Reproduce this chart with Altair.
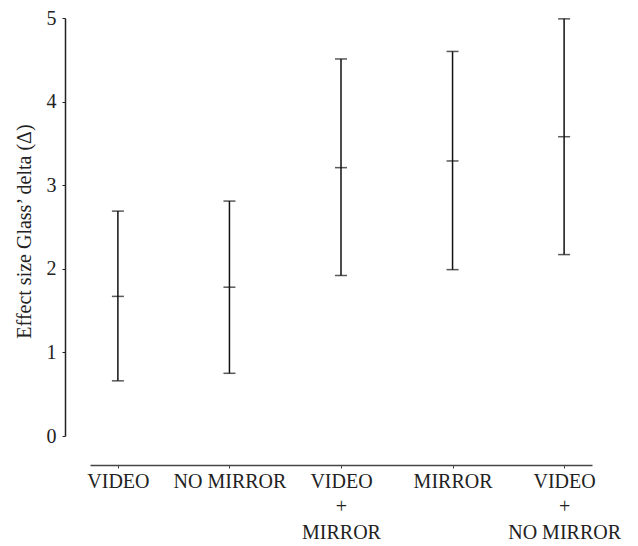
import altair as alt
import pandas as pd

categories = ["VIDEO", "NO MIRROR", "VIDEO|+|MIRROR", "MIRROR", "VIDEO|+|NO MIRROR"]
lower = [0.66, 0.75, 1.92, 1.99, 2.17]
mean = [1.67, 1.78, 3.21, 3.29, 3.58]
upper = [2.69, 2.81, 4.51, 4.60, 4.99]

df = pd.DataFrame({"cat": categories, "lo": lower, "mid": mean, "hi": upper})

FONT = "Liberation Serif"
FS = 20

xenc = alt.X(
    "cat:N",
    sort=categories,
    scale=alt.Scale(type="point", padding=0.25),
    axis=alt.Axis(
        title=None,
        labelExpr="split(datum.value, '|')",
        labelAngle=0,
        labelFont=FONT,
        labelFontSize=FS,
        labelColor="#222",
        labelLineHeight=25.5,
        labelPadding=3,
        labelBaseline="top",
        tickSize=3,
        tickColor="#444",
        domainColor="#444",
        domainWidth=1.5,
        offset=29,
        grid=False,
    ),
)

yscale = alt.Scale(domain=[0, 5], nice=False, zero=True)
yaxis = alt.Axis(
    title="Effect size Glass’ delta (Δ)",
    values=[0, 1, 2, 3, 4, 5],
    format="d",
    labelFont=FONT,
    labelFontSize=FS,
    labelColor="#222",
    labelPadding=6,
    tickSize=3,
    tickColor="#222",
    domainColor="#222",
    domainWidth=1.5,
    offset=25,
    grid=False,
    titleFont=FONT,
    titleFontSize=20,
    titleFontWeight="normal",
    titleColor="#222",
    titleX=-35,
    titleY=213,
    titleBaseline="alphabetic",
    titleAngle=270,
)

base = alt.Chart(df)

rule = base.mark_rule(color="#111", strokeWidth=1.5).encode(
    x=xenc,
    y=alt.Y("lo:Q", scale=yscale, axis=yaxis),
    y2="hi:Q",
)
cap_lo = base.mark_tick(color="#111", size=12, thickness=1.5).encode(x=xenc, y=alt.Y("lo:Q", scale=yscale))
cap_hi = base.mark_tick(color="#111", size=12, thickness=1.5).encode(x=xenc, y=alt.Y("hi:Q", scale=yscale))
mid = base.mark_tick(color="#111", size=12, thickness=1.5).encode(x=xenc, y=alt.Y("mid:Q", scale=yscale))

chart = (
    alt.layer(rule, cap_lo, cap_hi, mid)
    .properties(
        width=502,
        height=418,
        autosize=alt.AutoSizeParams(type="none"),
        padding={"left": 82, "top": 10, "right": 38, "bottom": 108},
        background="white",
    )
    .configure_view(stroke=None)
)

chart.save("out.html", embed_options={"renderer": "svg", "actions": False})
